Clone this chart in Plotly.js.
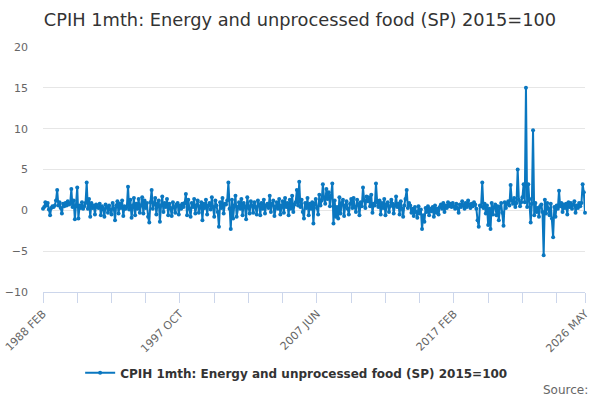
<!DOCTYPE html>
<html>
<head>
<meta charset="utf-8">
<script src="https://cdn.plot.ly/plotly-3.0.1.min.js"></script>
<style>
  html, body { margin: 0; padding: 0; background: #fff; }
  #chart { width: 600px; height: 400px; }
</style>
</head>
<body>
<div id="chart"></div>
<script>
const seriesName = 'CPIH 1mth: Energy and unprocessed food (SP) 2015=100';
const monthNames = ['JAN', 'FEB', 'MAR', 'APR', 'MAY', 'JUN', 'JUL', 'AUG', 'SEP', 'OCT', 'NOV', 'DEC'];
const startYear = 1988;
const startMonth = 1; // FEB

// monthly % change, one row per year (1988 starts in FEB, 2026 ends in MAY)
const monthlyChange = [
  0.2, 0.4, 1.0, 0.6, 0.9, 0.1, -0.6, 0.3, 0.5, 0.4, 0.6,
  1.2, 2.5, 0.6, 1.0, 0.3, -0.4, 0.8, 0.5, 0.9, 0.6, 1.1, 0.7,
  0.8, 2.6, 0.4, 1.2, -1.1, 0.5, 2.8, -1.0, 0.6, 0.3, 1.0, 0.2,
  0.5, 0.9, 3.4, 0.2, 1.4, -0.8, 0.9, 0.3, 0.6, -0.5, 0.7, 0.4,
  0.3, 0.8, -0.6, 0.5, 0.2, -0.8, 0.7, 0.4, -0.3, 0.6, 0.1, -0.5,
  0.9, 0.2, -1.2, 0.6, 1.1, -0.4, 0.8, 0.3, 1.2, -0.7, 0.5, 0.2,
  0.4, 2.9, 0.1, 1.3, -0.9, 0.6, 1.5, -0.6, 0.8, 0.2, 1.4, -0.3,
  0.6, 1.6, -0.4, 1.2, 0.3, 0.9, -0.8, -1.5, 1.0, 2.5, 0.2, 0.7,
  1.5, -0.5, 0.8, 1.2, -1.4, 0.6, 1.7, -0.2, 0.9, 0.4, 1.4, -0.6,
  0.8, 0.3, -0.7, 1.0, 0.4, -0.3, 0.7, 0.9, -0.5, 0.6, 0.2, 0.8,
  0.4, 0.9, 2.0, -0.6, 1.3, 0.2, -0.8, 0.9, 0.4, 1.4, -0.4, 0.6,
  1.2, -0.3, 0.5, 1.0, -1.2, 0.8, 0.3, 1.3, -0.5, 0.6, 0.9, 0.1,
  1.6, 0.4, -0.8, 1.2, 0.6, -0.2, -2.0, 1.0, 0.3, 1.5, -0.4, 0.8,
  0.7, 1.2, 3.4, 0.2, -2.3, 1.3, -1.0, 0.6, 1.8, -0.8, 0.4, 1.0,
  0.2, 1.4, -0.6, 0.9, 0.5, -1.1, 1.6, 0.3, -0.4, 1.1, 0.6, -0.3,
  1.0, 0.4, -0.5, 1.2, 0.7, -0.6, 0.9, 0.2, 1.3, -0.4, 0.6, 0.8,
  0.3, 1.8, -0.2, 0.8, 1.2, -0.7, 0.5, 1.0, 0.2, 1.4, -0.5, 0.6,
  1.1, -0.3, 1.5, 0.4, 0.9, -0.6, 1.3, 0.2, 1.8, -0.2, 0.7, 1.0,
  2.5, 0.6, 3.5, 0.4, 1.3, -0.2, -1.0, 0.9, 0.3, 1.5, -0.6, 0.8,
  0.2, 1.0, -1.6, 0.7, 1.4, 0.3, -0.5, 1.9, 0.6, 1.2, 3.2, 1.5,
  0.8, 2.6, 1.4, 2.2, 0.5, 1.8, 3.3, -1.6, 1.2, -0.8, 0.4, -1.0,
  1.6, -0.4, 0.9, 1.3, -0.7, 0.6, 1.1, 0.2, -0.5, 0.8, 1.4, 0.3,
  1.5, 0.4, -0.2, 1.3, 0.7, -0.6, 1.0, 0.5, 2.8, 1.2, 0.3, 1.7,
  1.1, 1.6, 0.5, 1.9, -0.3, 0.8, 0.6, 3.3, 1.0, 0.4, 1.2, -0.5,
  0.9, 0.3, 1.4, -0.6, 0.7, 1.0, -0.2, 0.5, 1.3, 0.8, -0.4, 0.6,
  1.7, 0.4, 0.8, -0.5, 1.1, 0.2, -0.8, 0.6, 1.4, 2.5, 0.3, 0.9,
  0.6, -0.3, 0.2, -0.7, 0.4, -0.2, -0.9, 0.5, -0.4, 0.1, -2.3, -0.6,
  -1.4, 0.3, -0.2, 0.5, -0.6, 0.2, -0.1, 0.4, -0.8, 0.6, -0.3, 0.2,
  -0.5, 0.4, 0.7, 0.2, 0.9, -0.2, 0.6, 0.3, 1.0, 0.5, 0.8, 0.4,
  0.9, 0.5, 0.2, 0.8, 0.3, -0.3, 0.7, 0.4, 1.1, 0.6, 0.2, 0.9,
  0.4, 1.2, 0.6, 0.3, 0.8, 0.5, 1.0, 0.7, 0.2, -1.2, -2.0, 0.6,
  0.5, 3.4, 0.3, 0.8, -0.4, 0.6, -1.8, 0.2, -2.3, 0.9, -0.5, 0.4,
  0.7, -0.6, 0.5, -1.2, 0.4, 0.9, -0.3, -1.9, 1.0, 0.3, 0.8, 1.1,
  0.6, 3.1, 1.2, 0.8, 1.5, 0.4, 0.9, 5.0, 1.3, 0.5, 1.0, 1.6,
  3.2, 1.0, 15.0, 0.4, 3.2, 1.4, -1.5, 0.8, 9.8, -0.6, 0.9, -0.2,
  0.3, -0.8, 0.5, 0.7, -0.2, -5.5, 1.3, -0.4, 0.9, 0.2, -0.6, 0.8,
  -1.0, -3.3, 0.4, -0.8, 0.6, 0.2, 2.4, 0.5, 0.9, -0.2, 0.7, 0.3,
  0.8, -0.5, 1.0, 0.4, 0.9, 0.2, 0.7, 1.1, -0.3, 0.6, 0.3, 0.9,
  0.5, 0.9, 3.2, 2.2, -0.3
];

const yTicks = [-10, -5, 0, 5, 10, 15, 20];
const tickStep = 29;          // a tick mark every 29 months
const labelEvery = 4;         // a label on every 4th tick, plus the last month

// month labels like "1988 FEB"
const months = monthlyChange.map((_, i) => {
  const m = startMonth + i;
  return (startYear + Math.floor(m / 12)) + ' ' + monthNames[m % 12];
});

const tickIdx = [];
for (let i = 0; i < months.length; i += tickStep) tickIdx.push(i);
if (tickIdx[tickIdx.length - 1] !== months.length - 1) tickIdx.push(months.length - 1);
const tickVals = tickIdx.map(i => months[i]);
const tickText = tickIdx.map((i, k) =>
  (k % labelEvery === 0 || i === months.length - 1) ? months[i] : '');

const blue = '#0a77c0';
const font = 'DejaVu Sans, Verdana, sans-serif';

const trace = {
  x: months,
  y: monthlyChange,
  type: 'scatter',
  mode: 'lines+markers',
  name: seriesName,
  line: { color: blue, width: 2 },
  marker: { color: blue, size: 4 },
  cliponaxis: false,
  hoverinfo: 'x+y'
};

const layout = {
  width: 600,
  height: 400,
  margin: { t: 47, b: 108, l: 43, r: 15 },
  paper_bgcolor: '#ffffff',
  plot_bgcolor: '#ffffff',
  font: { family: font, color: '#666666', size: 11 },
  title: {
    text: seriesName,
    x: 0.5, xanchor: 'center',
    y: 0.95, yanchor: 'middle',
    font: { family: font, size: 17.8, color: '#333333' }
  },
  xaxis: {
    type: 'category',
    range: [0, months.length - 1],
    showgrid: false,
    zeroline: false,
    showline: true,
    linecolor: '#ccd6eb',
    linewidth: 1,
    ticks: 'outside',
    ticklen: 10,
    tickcolor: '#ccd6eb',
    tickmode: 'array',
    tickvals: tickVals,
    ticktext: tickText,
    tickangle: -45,
    tickfont: { family: font, size: 11, color: '#666666' }
  },
  yaxis: {
    range: [-10, 20],
    tickmode: 'array',
    tickvals: yTicks,
    showgrid: true,
    gridcolor: '#e6e6e6',
    zeroline: false,
    showline: false,
    ticks: '',
    ticklabelstandoff: 14,
    tickfont: { family: font, size: 11, color: '#666666' }
  },
  showlegend: true,
  legend: {
    orientation: 'h',
    x: 0.468, xanchor: 'center',
    y: -0.33, yanchor: 'middle',
    font: { family: font, size: 12, color: '#333333', weight: 'bold' }
  },
  annotations: [{
    text: 'Source:',
    xref: 'paper', yref: 'paper',
    x: 1.01, xanchor: 'right',
    y: -0.4, yanchor: 'middle',
    showarrow: false,
    font: { family: font, size: 12, color: '#666666' }
  }]
};

Plotly.newPlot('chart', [trace], layout, { displayModeBar: false, staticPlot: true });
</script>
</body>
</html>
